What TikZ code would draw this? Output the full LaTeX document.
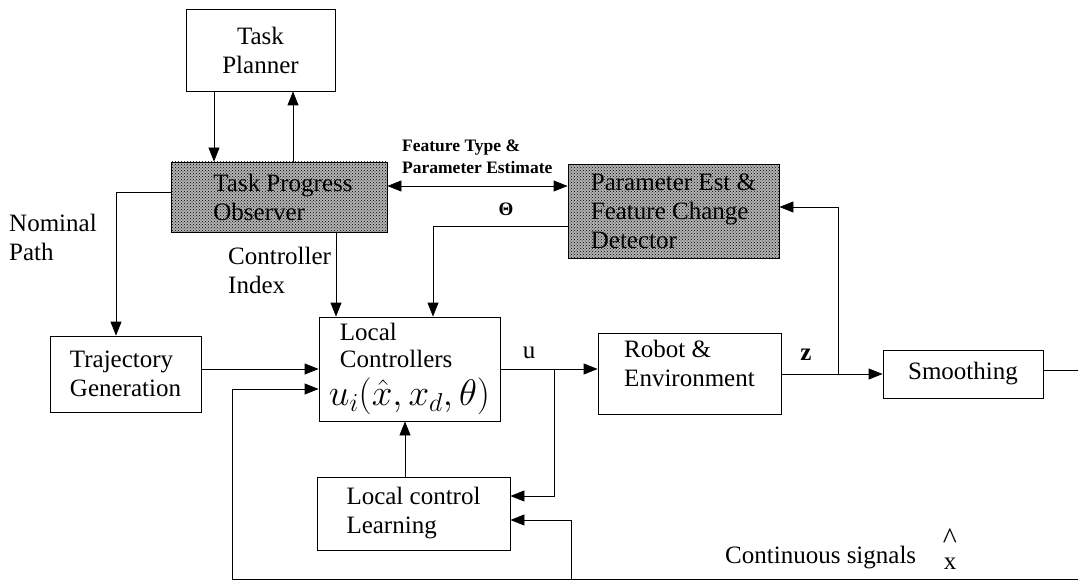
\documentclass[tikz,border=0pt]{standalone}
\usepackage{fix-cm}
\usepackage[no-math]{fontspec}
\setmainfont{Liberation Serif}
\usetikzlibrary{arrows.meta}
\usetikzlibrary{patterns}
\usetikzlibrary{calc}
\usetikzlibrary{positioning}

\tikzset{
  blk/.style={draw, line width=0.8pt, align=left, inner sep=2pt},
  shaded/.style={blk, fill=gray!60, postaction={pattern=crosshatch dots, pattern color=black}},
  sig/.style={line width=0.8pt, -{Triangle[length=14pt,width=11pt]}},
  lbl/.style={inner sep=0pt, align=left},
}

\begin{document}
\begin{tikzpicture}[x=1pt, y=-1pt, font=\fontsize{25}{29}\selectfont]
\useasboundingbox (0,0) rectangle (1078,580);

% boxes
\node[blk, align=center, minimum width=149pt, minimum height=82pt] (planner) at (260.5,50) {Task\\Planner};
\node[shaded, minimum width=216pt, minimum height=70pt] (observer) at (279,197) {\hspace*{8pt}Task Progress\\\hspace*{8pt}Observer};
\node[shaded, minimum width=211pt, minimum height=94pt] (param) at (673.5,211) {Parameter Est \&\\Feature Change\\Detector};
\node[blk, minimum width=151pt, minimum height=76pt] (traj) at (125.5,374) {Trajectory\\Generation};
\node[blk, minimum width=181pt, minimum height=104pt, inner ysep=0pt, font=\fontsize{25}{27}\selectfont] (lc) at (409.5,369)
  {\hspace*{11pt}Local\\\hspace*{11pt}Controllers\\[9pt]{\fontsize{37}{40}\selectfont$u_i(\hat{x},x_d,\theta)$}};
\node[blk, minimum width=193pt, minimum height=73pt] (learn) at (413.5,513.5) {Local control\\Learning};
\node[blk, minimum width=183pt, minimum height=81pt, text depth=20pt] (robot) at (689.5,373.5) {Robot \&\\Environment};
\node[blk, minimum width=160pt, minimum height=48pt] (smooth) at (963,374) {Smoothing};

% branch points and loose ends
\coordinate (ubr) at (554,369);
\coordinate (zbr) at (838,374);
\coordinate (outR) at (1078,370);
\coordinate (botR) at (1078,579);
\coordinate (fbk) at (232,579);
\coordinate (lbr) at (571,579);

% lines
\draw[sig] ([xshift=-46.5pt]planner.south) -- ([xshift=-46.5pt]planner.south |- observer.north);
\draw[sig] ([xshift=32.5pt]planner.south |- observer.north) -- ([xshift=32.5pt]planner.south);
\draw[sig] ([yshift=5pt]observer.west) -| ([xshift=-9.5pt]traj.north);
\draw[sig] ([xshift=57pt]observer.south) -- ([xshift=57pt]observer.south |- lc.north);
\draw[sig, {Triangle[length=14pt,width=11pt]}-{Triangle[length=14pt,width=11pt]}] ([yshift=11pt]observer.east) -- ([yshift=11pt]observer.east -| param.west);
\draw[sig] ([yshift=-15pt]param.west) -| ([xshift=23.5pt]lc.north);
\draw[sig] (lc.west -| traj.east) -- (lc.west);
\draw[sig] (lc.east) -- (lc.east -| robot.west);
\draw[sig] (ubr) |- ([yshift=17.5pt]learn.east);
\draw[sig] ([xshift=-8.5pt]learn.north) -- ([xshift=-8.5pt]learn.north |- lc.south);
\draw[sig] (robot.east |- zbr) -- (smooth.west);
\draw[sig] (zbr) |- ([yshift=4pt]param.east);
\draw[line width=0.8pt] ([yshift=4pt]smooth.east) -- (outR);
\draw[line width=0.8pt] (botR) -- (fbk);
\draw[sig] (fbk) |- ([yshift=-20pt]lc.west);
\draw[sig] (lbr) |- ([yshift=-6.5pt]learn.east);

% labels
\node[lbl, anchor=west] (nompath) at (9,237) {Nominal\\Path};
\node[lbl, anchor=west] (ctrlidx) at (228,270) {Controller\\Index};
\node[lbl, anchor=west, font=\fontsize{17.5}{22}\selectfont\bfseries] (feat) at (402,157) {Feature Type \&\\Parameter Estimate};
\node[lbl, font=\fontsize{19}{20}\selectfont\bfseries] (theta) at (506,209) {Θ};
\node[lbl] (ulbl) at (529,353) {u};
\node[lbl, font=\fontsize{25}{29}\selectfont\bfseries] (zlbl) at (806,355) {z};
\node[lbl, anchor=west] (cont) at (725,558) {Continuous signals};
\node[lbl, align=center] (xhat) at (950,549) {{\fontsize{30}{30}\selectfont\textasciicircum}\\[-8pt]x};
\end{tikzpicture}
\end{document}
